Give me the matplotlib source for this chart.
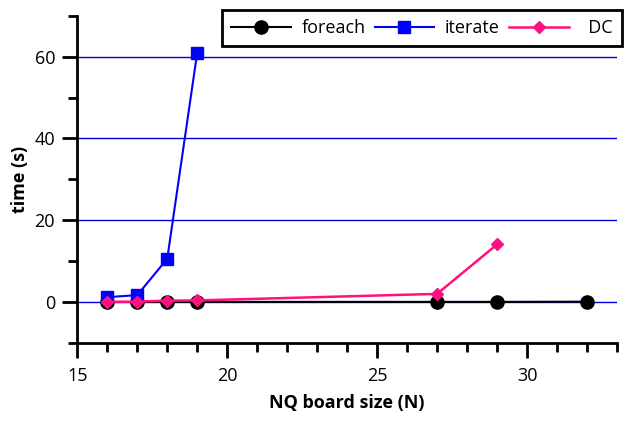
import matplotlib
matplotlib.use('Agg')
import matplotlib.pyplot as plt
from matplotlib.ticker import MultipleLocator

plt.rcParams['font.family'] = ['Open Sans', 'DejaVu Sans']

# board sizes and run times (s)
n_foreach = [16, 17, 18, 19, 27, 29, 32]
t_foreach = [0.02, 0.02, 0.03, 0.05, 0.05, 0.05, 0.1]

n_iterate = [16, 17, 18, 19]
t_iterate = [1.2, 1.7, 10.6, 61.0]

n_dc = [16, 17, 18, 19, 27, 29]
t_dc = [0.05, 0.1, 0.35, 0.4, 2.0, 14.1]

fig = plt.figure(figsize=(6.25, 4.25), dpi=100)
ax = fig.add_axes([0.1237, 0.193, 0.8635, 0.770])

for y in [0, 20, 40, 60]:
    ax.axhline(y, color='#0000dd', lw=1.0, zorder=1)

ax.plot(n_foreach, t_foreach, '-o', color='black', lw=1.5, ms=9.5, label='foreach', zorder=3)
ax.plot(n_iterate, t_iterate, '-s', color='#0000ff', lw=1.5, ms=8.5, label='iterate', zorder=4)
ax.plot(n_dc, t_dc, '-D', color='#ff1080', lw=1.8, ms=6, label='  DC', zorder=5)

ax.set_xlim(15, 33)
ax.set_ylim(-10, 70)
ax.xaxis.set_major_locator(MultipleLocator(5))
ax.xaxis.set_minor_locator(MultipleLocator(1))
ax.yaxis.set_major_locator(MultipleLocator(20))
ax.yaxis.set_minor_locator(MultipleLocator(10))

for s in ['top', 'right']:
    ax.spines[s].set_visible(False)
for s in ['left', 'bottom']:
    ax.spines[s].set_linewidth(2)

ax.tick_params(which='major', length=11, width=2, labelsize=13)
ax.tick_params(which='minor', length=6.5, width=2)
ax.tick_params(axis='x', which='major', pad=6)
ax.tick_params(axis='y', which='major', pad=5)

ax.set_xlabel('NQ board size (N)', fontsize=13, fontweight='bold', labelpad=7)
ax.set_ylabel('time (s)', fontsize=13, fontweight='bold', labelpad=4)

leg = fig.legend(loc='upper right', bbox_to_anchor=(622 / 625, 1 - 10 / 425), ncol=3,
                 fontsize=13, handlelength=3.3, handletextpad=0.6, columnspacing=0.5,
                 borderaxespad=0, fancybox=False, framealpha=1, edgecolor='black',
                 borderpad=0.5)
leg.get_frame().set_linewidth(2)

fig.savefig('out.png', dpi=100)
